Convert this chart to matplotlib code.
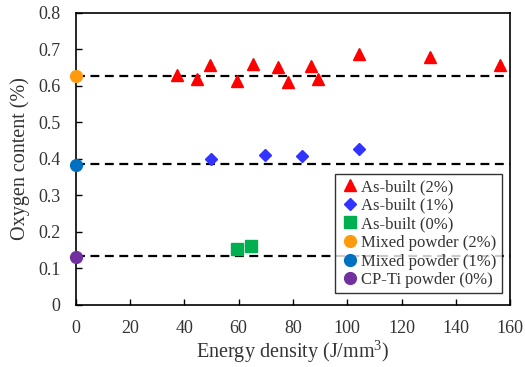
import numpy as np
import matplotlib
matplotlib.use('Agg')
import matplotlib.pyplot as plt

plt.rcParams['font.family'] = ['Liberation Serif', 'DejaVu Serif']
plt.rcParams['mathtext.fontset'] = 'custom'
plt.rcParams['mathtext.rm'] = 'Liberation Serif'

# as-built (2%)
x2 = [37.2, 44.6, 49.6, 59.5, 65.2, 74.4, 78.2, 86.8, 89.3, 104.2, 130.3, 156.3]
y2 = [0.630, 0.618, 0.657, 0.612, 0.660, 0.653, 0.610, 0.655, 0.619, 0.688, 0.679, 0.657]
# as-built (1%)
x1 = [49.7, 69.6, 83.4, 104.3]
y1 = [0.399, 0.412, 0.408, 0.427]
# as-built (0%)
x0 = [59.5, 64.5]
y0 = [0.153, 0.162]
# powders (at 0 energy)
mix2 = 0.627
mix1 = 0.383
cpti = 0.132
levels = [0.627, 0.385, 0.133]

txt = '#333333'

fig = plt.figure(figsize=(5.25, 3.67), dpi=100)
ax = fig.add_axes([0.144, 0.169, 0.828, 0.796])

for lv in levels:
    ax.plot([0, 160], [lv, lv], color='black', ls=(0, (4, 2.5)), lw=1.6, zorder=1)

ax.plot(x2, y2, ls='none', marker='^', ms=8.5, color='#FF0000', label='As-built (2%)', zorder=3)
ax.plot(x1, y1, ls='none', marker='D', ms=6, color='#3333FF', label='As-built (1%)', zorder=3)
ax.plot(x0, y0, ls='none', marker='s', ms=8.5, color='#00B050', label='As-built (0%)', zorder=3)
ax.plot([0], [mix2], ls='none', marker='o', ms=8.5, color='#FF9A0E', label='Mixed powder (2%)', zorder=4, clip_on=False)
ax.plot([0], [mix1], ls='none', marker='o', ms=8.5, color='#0070C0', label='Mixed powder (1%)', zorder=4, clip_on=False)
ax.plot([0], [cpti], ls='none', marker='o', ms=8.5, color='#7030A0', label='CP-Ti powder (0%)', zorder=4, clip_on=False)

ax.set_xlim(0, 160)
ax.set_ylim(0, 0.8)
ax.set_xticks(np.arange(0, 161, 20))
ax.set_yticks(np.arange(0, 0.81, 0.1))
ax.set_yticklabels(['0', '0.1', '0.2', '0.3', '0.4', '0.5', '0.6', '0.7', '0.8'])
ax.tick_params(direction='in', labelsize=13, length=4, width=1, labelcolor=txt)
ax.tick_params(axis='x', pad=11)
ax.tick_params(axis='y', pad=11)
for s in ax.spines.values():
    s.set_linewidth(1.2)
ax.set_xlabel('Energy density (J/mm$\\mathregular{^3}$)', fontsize=14.5, color=txt, labelpad=1)
ax.set_ylabel('Oxygen content (%)', fontsize=14.5, color=txt, labelpad=6)

leg = ax.legend(loc='lower right', bbox_to_anchor=(0.98, 0.04), fontsize=12,
                frameon=True, fancybox=False, edgecolor='black', handletextpad=0.1,
                borderpad=0.3, labelspacing=0.16, handlelength=1.2, borderaxespad=0)
leg.get_frame().set_linewidth(1.0)
for t in leg.get_texts():
    t.set_color(txt)

fig.savefig('out.png', dpi=100)
